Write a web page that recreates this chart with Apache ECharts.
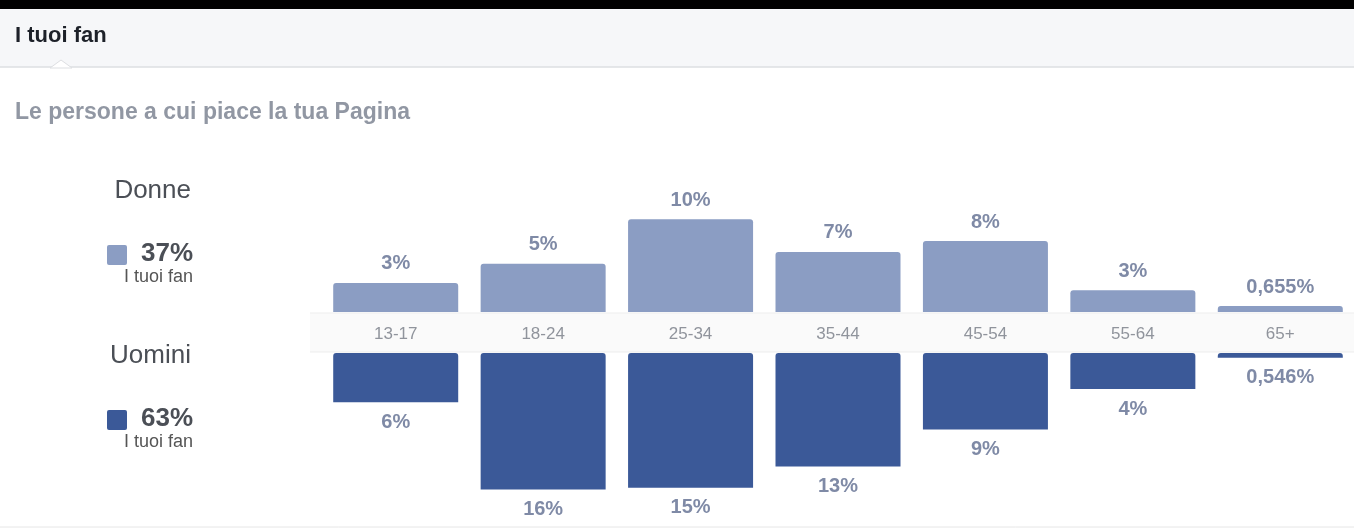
<!DOCTYPE html>
<html>
<head>
<meta charset="utf-8">
<script src="https://cdn.jsdelivr.net/npm/echarts@6/dist/echarts.min.js"></script>
<style>
  html, body { margin: 0; padding: 0; background: #fff; }
  #chart { width: 1354px; height: 529px; }
</style>
</head>
<body>
<div id="chart"></div>
<script>
// age groups
const ageGroups = ['13-17', '18-24', '25-34', '35-44', '45-54', '55-64', '65+']
// bar heights (percent of fans)
const donneValues = [3.2, 5.3, 10.2, 6.6, 7.8, 2.4, 0.655]
const uominiValues = [5.6, 15.5, 15.3, 12.9, 8.7, 4.1, 0.546]
// labels printed on the bars
const donneLabels = ['3%', '5%', '10%', '7%', '8%', '3%', '0,655%']
const uominiLabels = ['6%', '16%', '15%', '13%', '9%', '4%', '0,546%']
const donneShare = '37%'
const uominiShare = '63%'

const FONT = '"Liberation Sans", Arial, sans-serif'
const LIGHT = '#8b9dc3'
const DARK = '#3b5998'
const LABEL = '#7f8aa6'
const TEXT = '#4b4f56'

const chart = echarts.init(document.getElementById('chart'))

const legendBlock = (name, share, color, y) => [
  {
    type: 'text', right: 1354 - 191, top: y - 14,
    style: { text: name, font: '26px ' + FONT, fill: TEXT },
  },
  {
    type: 'rect', shape: { x: 107, y: y + 53, width: 20, height: 20, r: 2 },
    style: { fill: color },
  },
  {
    type: 'text', right: 1354 - 193, top: y + 49,
    style: { text: share, font: 'bold 26px ' + FONT, fill: TEXT },
  },
  {
    type: 'text', right: 1354 - 193, top: y + 76,
    style: { text: 'I tuoi fan', font: '18px ' + FONT, fill: '#555' },
  },
]

chart.setOption({
  animation: false,
  textStyle: { fontFamily: FONT },
  graphic: [
    { type: 'rect', shape: { x: 0, y: 0, width: 1354, height: 9 }, style: { fill: '#000' } },
    { type: 'rect', shape: { x: 0, y: 9, width: 1354, height: 58 }, style: { fill: '#f6f7f9' } },
    { type: 'line', shape: { x1: 0, y1: 67, x2: 1354, y2: 67 }, style: { stroke: '#dddfe2', lineWidth: 1.5 } },
    { type: 'polygon', shape: { points: [[50, 68], [61, 60], [72, 68]] }, style: { fill: '#fff', stroke: '#dddfe2' } },
    {
      type: 'text', left: 15, top: 25,
      style: { text: 'I tuoi fan', font: 'bold 22px ' + FONT, fill: '#1d2129' },
    },
    {
      type: 'text', left: 15, top: 101,
      style: { text: 'Le persone a cui piace la tua Pagina', font: 'bold 23px ' + FONT, fill: '#9197a3' },
    },
    // label band between the two bar rows
    { type: 'rect', z: -1, shape: { x: 310, y: 313, width: 1044, height: 39 }, style: { fill: '#fafafa' } },
    { type: 'line', z: -1, shape: { x1: 310, y1: 313, x2: 1354, y2: 313 }, style: { stroke: '#ededed' } },
    { type: 'line', z: -1, shape: { x1: 310, y1: 352, x2: 1354, y2: 352 }, style: { stroke: '#ededed' } },
    { type: 'line', shape: { x1: 0, y1: 527, x2: 1354, y2: 527 }, style: { stroke: '#e6e6e6' } },
    ...legendBlock('Donne', donneShare, LIGHT, 192),
    ...legendBlock('Uomini', uominiShare, DARK, 357),
  ],
  grid: [
    { left: 322, right: -5, top: 130, height: 182 },
    { left: 322, right: -5, top: 353, height: 182 },
  ],
  xAxis: [
    {
      type: 'category', gridIndex: 0, data: ageGroups,
      axisLine: { show: false }, axisTick: { show: false },
      axisLabel: { margin: 14, fontSize: 17, color: '#90949c', fontFamily: FONT },
    },
    {
      type: 'category', gridIndex: 1, data: ageGroups,
      axisLine: { show: false }, axisTick: { show: false }, axisLabel: { show: false },
    },
  ],
  yAxis: [
    { type: 'value', gridIndex: 0, min: 0, max: 20, show: false },
    { type: 'value', gridIndex: 1, min: 0, max: 20, inverse: true, show: false },
  ],
  series: [
    {
      name: 'Donne', type: 'bar', xAxisIndex: 0, yAxisIndex: 0,
      data: donneValues, barWidth: 125,
      itemStyle: { color: LIGHT, borderRadius: [3, 3, 0, 0] },
      label: {
        show: true, position: 'top', distance: 9,
        formatter: (p) => donneLabels[p.dataIndex],
        fontSize: 20, fontWeight: 'bold', color: LABEL, fontFamily: FONT,
      },
    },
    {
      name: 'Uomini', type: 'bar', xAxisIndex: 1, yAxisIndex: 1,
      data: uominiValues, barWidth: 125,
      itemStyle: { color: DARK, borderRadius: [3, 3, 0, 0] },
      label: {
        show: true, position: 'bottom', distance: 10,
        formatter: (p) => uominiLabels[p.dataIndex],
        fontSize: 20, fontWeight: 'bold', color: LABEL, fontFamily: FONT,
      },
    },
  ],
})
</script>
</body>
</html>
